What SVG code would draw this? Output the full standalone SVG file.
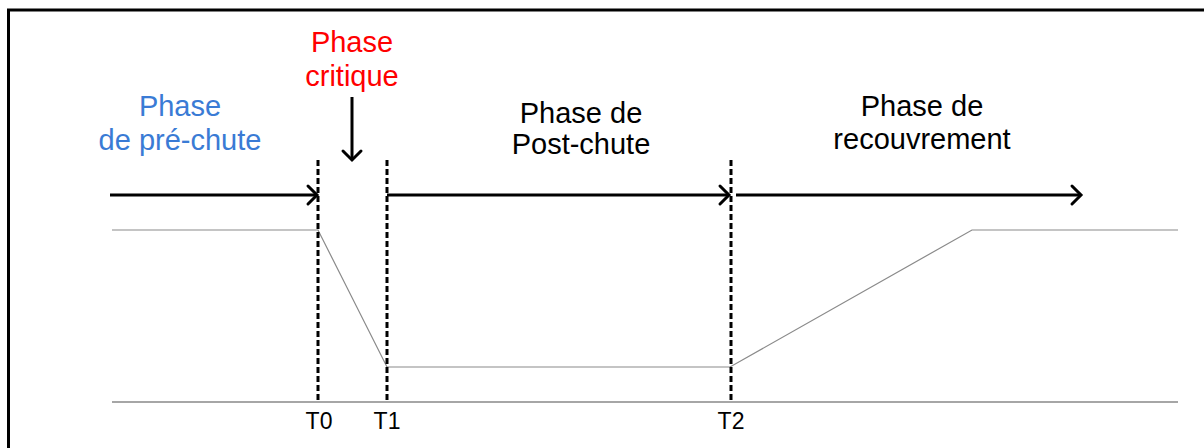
<svg xmlns="http://www.w3.org/2000/svg" width="1204" height="448" viewBox="0 0 1204 448">
<style>
text{font-family:"Liberation Sans",Arial,sans-serif;text-anchor:middle}
.big{font-size:29px}
.t{font-size:23px;fill:#000}
.arrow{stroke:#000;stroke-width:3;fill:none}
.head{stroke:#000;stroke-width:3;fill:none;stroke-linecap:round;stroke-linejoin:miter}
.dash{stroke:#000;stroke-width:3;stroke-dasharray:6 3;fill:none}
.curve{stroke:#8a8a8a;stroke-width:1.2;fill:none}
.axis{stroke:#a6a6a6;stroke-width:2;fill:none}
</style>
<rect width="1204" height="448" fill="#fff"/>
<rect x="8.5" y="10" width="1210" height="460" fill="none" stroke="#000" stroke-width="3"/>
<g id="axis"><line class="axis" x1="112" y1="402" x2="1178" y2="402"/></g>
<g id="signal"><polyline class="curve" points="112,230 318,230 387,367 730,367 972,230 1178,230"/></g>
<g id="connectors">
<line class="dash" x1="318" y1="160" x2="318" y2="402"/>
<line class="dash" x1="387" y1="160" x2="387" y2="402"/>
<line class="dash" x1="731" y1="160" x2="731" y2="402"/>
<line class="arrow" x1="110" y1="195" x2="317" y2="195"/>
<polyline class="head" points="308,186 317,195 308,204"/>
<line class="arrow" x1="387" y1="195" x2="729" y2="195"/>
<polyline class="head" points="720,186 729,195 720,204"/>
<line class="arrow" x1="736" y1="195" x2="1081" y2="195"/>
<polyline class="head" points="1072,186 1081,195 1072,204"/>
<line class="arrow" x1="352" y1="97" x2="352" y2="160"/>
<polyline class="head" points="343,151 352,160 361,151"/>
</g>
<g id="pre-chute"><text class="big" fill="#3a7bd5" x="180" y="116">Phase</text><text class="big" fill="#3a7bd5" x="180" y="150">de pré-chute</text></g>
<g id="critique"><text class="big" fill="#ff0000" x="352" y="52">Phase</text><text class="big" fill="#ff0000" x="352" y="86">critique</text></g>
<g id="post-chute"><text class="big" fill="#000" x="581" y="123">Phase de</text><text class="big" fill="#000" x="581" y="154">Post-chute</text></g>
<g id="recouvrement"><text class="big" fill="#000" x="922" y="116">Phase de</text><text class="big" fill="#000" x="922" y="149">recouvrement</text></g>
<g id="labels"><text class="t" x="319" y="429">T0</text><text class="t" x="387" y="429">T1</text><text class="t" x="731" y="429">T2</text></g>
</svg>
